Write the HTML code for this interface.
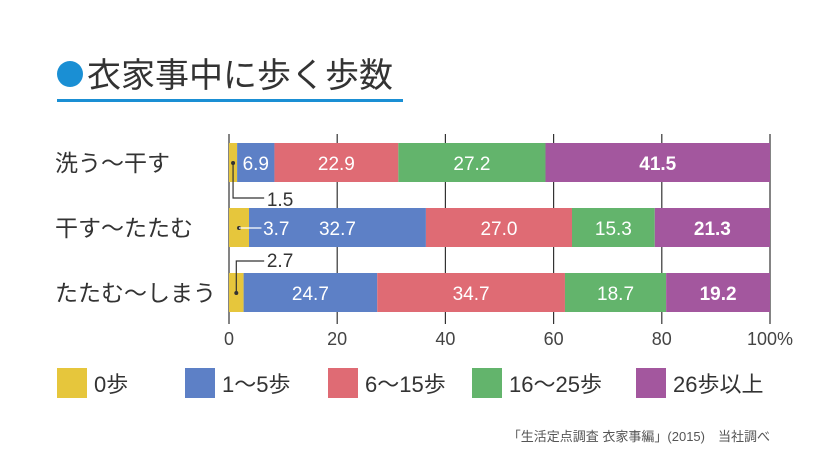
<!DOCTYPE html>
<html><head><meta charset="utf-8"><style>
body{margin:0;background:#fff;}
svg{display:block;font-family:"Liberation Sans","Noto Sans CJK JP",sans-serif;}
</style></head><body>
<svg width="840" height="454" viewBox="0 0 840 454">
<circle cx="70" cy="74" r="13" fill="#1a8fd4"/>
<text x="87" y="87" font-size="34" fill="#333">衣家事中に歩く歩数</text>
<rect x="57" y="99" width="346" height="3" fill="#1a8fd4"/>
<g id="grid"></g>
<g id="bars"></g>
<g id="legend"></g>
<text x="770" y="441" font-size="13" fill="#555" text-anchor="end">「生活定点調査 衣家事編」(2015)　当社調べ</text>
</svg>
<script>
const categories=["洗う～干す","干す～たたむ","たたむ～しまう"];
const seriesNames=["0歩","1～5歩","6～15歩","16～25歩","26歩以上"];
const s0=[1.5,3.7,2.7];
const s1=[6.9,32.7,24.7];
const s2=[22.9,27.0,34.7];
const s3=[27.2,15.3,18.7];
const s4=[41.5,21.3,19.2];
const ticks=[0,20,40,60,80,100];
const series=[s0,s1,s2,s3,s4];
const colors=["#e6c63c","#5d80c6","#df6b74","#63b46c","#a3579e"];
const NS="http://www.w3.org/2000/svg";
const x=v=>229+v*5.41;
const yTop=i=>143+i*65;
function mk(t,a,p){const e=document.createElementNS(NS,t);for(const k in a)e.setAttribute(k,a[k]);p.appendChild(e);return e;}
const grid=document.getElementById('grid'),bars=document.getElementById('bars'),leg=document.getElementById('legend');
ticks.forEach(t=>{
 const l=mk('line',{x1:x(t),x2:x(t),y1:134,y2:324,stroke:'#333','stroke-width':1.2},grid);
 
 
 const tx=mk('text',{x:x(t),y:345,'font-size':18,fill:'#444','text-anchor':'middle'},grid);
 tx.textContent=t+(t===100?'%':'');
 
 
});
categories.forEach((c,i)=>{
 const y=yTop(i);
 const cl=mk('text',{x:55,y:y+28,'font-size':23,fill:'#333'},bars);
 cl.textContent=c;
 
 
 let acc=0;
 series.forEach((s,j)=>{
  const v=s[i];
  const r=mk('rect',{x:x(acc),y:y,width:x(acc+v)-x(acc),height:39,fill:colors[j]},bars);
  
  
  if(j>0){
   const t=mk('text',{x:(x(acc)+x(acc+v))/2,y:y+27,'font-size':19,fill:'#fff','text-anchor':'middle','font-weight':j===4?'bold':'normal'},bars);
   t.textContent=v.toFixed(1);
   
   
  }
  acc+=v;
 });
 const cx=x(s0[i]/2), cy=y+20;
 mk('circle',{cx:cx,cy:cy,r:2,fill:'#333'},bars);
 let ay,lbl;
 if(i===0){ay=y+55;mk('polyline',{points:`${cx},${cy} ${cx},${ay} ${x(6.5)},${ay}`,fill:'none',stroke:'#333','stroke-width':1.2},bars);lbl=mk('text',{x:x(7),y:ay+8,'font-size':19,fill:'#333'},bars);}
 else if(i===1){mk('line',{x1:cx,y1:cy,x2:x(6),y2:cy,stroke:'#fff','stroke-width':1.2},bars);lbl=mk('text',{x:x(6.3),y:y+27,'font-size':19,fill:'#fff'},bars);}
 else {ay=y-12;mk('polyline',{points:`${cx},${cy} ${cx},${ay} ${x(6.5)},${ay}`,fill:'none',stroke:'#333','stroke-width':1.2},bars);lbl=mk('text',{x:x(7),y:ay+6,'font-size':19,fill:'#333'},bars);}
 lbl.textContent=s0[i].toFixed(1);
 
 
});
const lx=[57,185,328,472,636];
seriesNames.forEach((n,j)=>{
 const r=mk('rect',{x:lx[j],y:368,width:30,height:30,fill:colors[j]},leg);
 
 
 const t=mk('text',{x:lx[j]+37,y:392,'font-size':22,fill:'#333'},leg);
 t.textContent=n;
 
 
});
</script>
</body></html>
